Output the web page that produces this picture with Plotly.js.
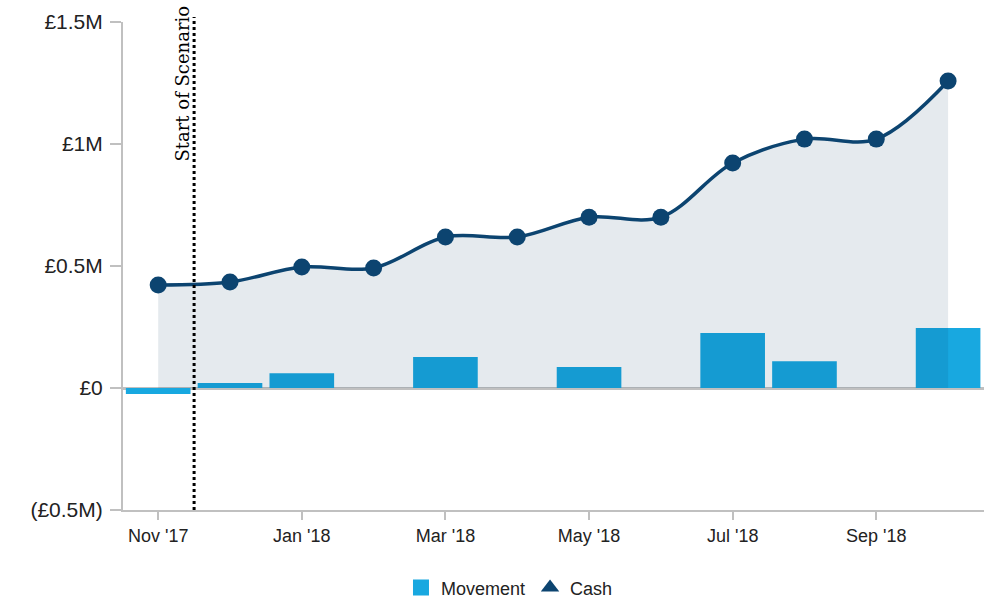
<!DOCTYPE html>
<html>
<head>
<meta charset="utf-8">
<script src="https://cdn.plot.ly/plotly-3.0.1.min.js"></script>
<style>html,body{margin:0;padding:0;background:#fff;}#chart{width:999px;height:601px;}</style>
</head>
<body>
<div id="chart"></div>
<script>
var months = ["Nov '17","Dec '17","Jan '18","Feb '18","Mar '18","Apr '18","May '18","Jun '18","Jul '18","Aug '18","Sep '18","Oct '18"];
var movement = [-25000, 20000, 60000, 0, 127000, 0, 86000, 0, 225000, 110000, 0, 246000];
var cash = [422000, 434000, 496000, 492000, 619000, 619000, 700000, 700000, 922000, 1020000, 1020000, 1258000];
var yTickVals = [-500000, 0, 500000, 1000000, 1500000];
var yTickText = ["(£0.5M)", "£0", "£0.5M", "£1M", "£1.5M"];
var xTickLabels = ["Nov '17","Jan '18","Mar '18","May '18","Jul '18","Sep '18"];
var scenarioLabel = "Start of Scenario";

var barColor = "#18a8e0";
var cashColor = "#0c4470";

var traces = [
  {
    type: "bar", x: months, y: movement, name: "Movement",
    marker: {color: barColor}, width: 0.9,
    showlegend: false, hoverinfo: "skip"
  },
  {
    type: "scatter", mode: "lines+markers", x: months, y: cash, name: "Cash",
    line: {color: cashColor, width: 3.5, shape: "spline", smoothing: 1},
    marker: {color: cashColor, size: 17},
    fill: "tozeroy", fillcolor: "rgba(0,47,92,0.1)",
    showlegend: false, hoverinfo: "skip"
  },
  {
    type: "scatter", mode: "markers", x: [null], y: [null], name: "Movement",
    marker: {color: barColor, symbol: "square", size: 16}, showlegend: true
  },
  {
    type: "scatter", mode: "markers", x: [null], y: [null], name: "Cash",
    marker: {color: cashColor, symbol: "triangle-up", size: 16}, showlegend: true
  }
];

var layout = {
  width: 999, height: 601,
  margin: {l: 123, r: 15, t: 22, b: 91},
  paper_bgcolor: "#fff", plot_bgcolor: "#fff",
  font: {family: "Liberation Sans, Arial, sans-serif", size: 18, color: "#222"},
  barmode: "overlay",
  xaxis: {
    type: "category",
    categoryorder: "array", categoryarray: months,
    range: [-0.49, 11.5],
    tickvals: xTickLabels,
    ticks: "outside", ticklen: 8, tickwidth: 2, tickcolor: "#c0c0c0",
    showline: true, linecolor: "#c0c0c0", linewidth: 2,
    showgrid: false, zeroline: false,
    tickfont: {size: 18, color: "#222"}
  },
  yaxis: {
    range: [-500000, 1500000],
    tickvals: yTickVals, ticktext: yTickText,
    ticks: "outside", ticklen: 11, tickwidth: 2, tickcolor: "#c0c0c0",
    ticklabelstandoff: 3,
    showline: true, linecolor: "#c0c0c0", linewidth: 2,
    showgrid: false, zeroline: true, zerolinecolor: "#c0c0c0", zerolinewidth: 3,
    tickfont: {size: 21, color: "#222"}
  },
  shapes: [{
    type: "line", xref: "x", yref: "paper", x0: 0.5, x1: 0.5, y0: 0, y1: 1.01,
    line: {color: "#000", width: 3, dash: "dot"}
  }],
  annotations: [{
    xref: "x", yref: "paper", x: 0.5, y: 1.037, xanchor: "right", yanchor: "top",
    xshift: 1, text: scenarioLabel, textangle: -90, showarrow: false,
    font: {family: "DejaVu Serif, serif", size: 18, color: "#000"}
  }],
  legend: {
    orientation: "h", xref: "container", yref: "container",
    x: 0.51, xanchor: "center", y: 0.022, yanchor: "middle",
    font: {size: 18, color: "#222"}, itemsizing: "trace"
  }
};

Plotly.newPlot("chart", traces, layout, {displayModeBar: false, staticPlot: true});
</script>
</body>
</html>
